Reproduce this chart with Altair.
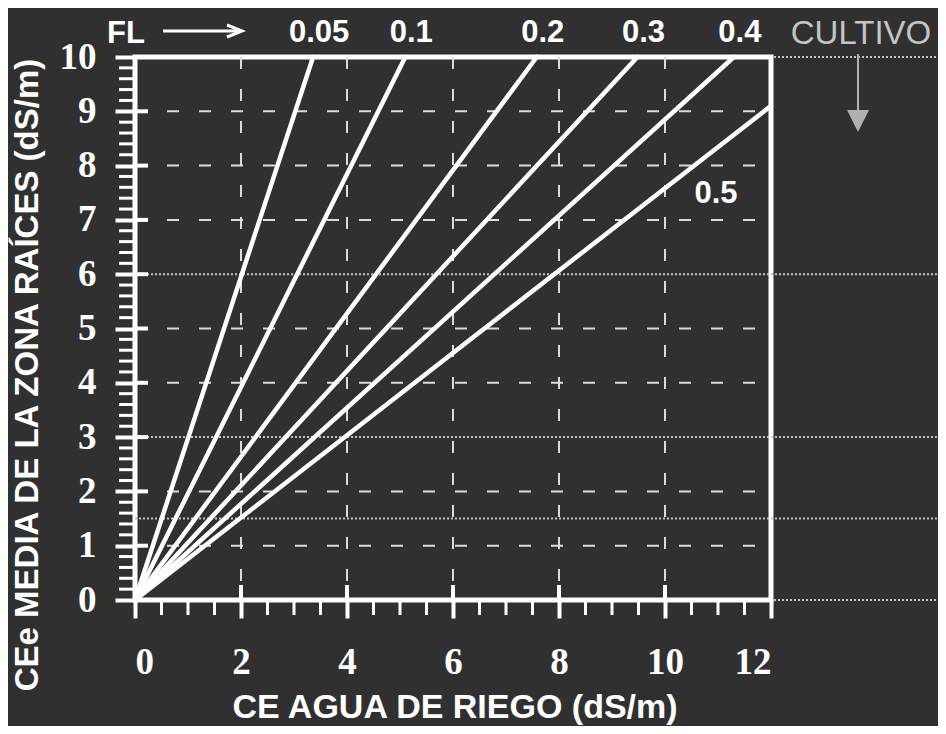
import altair as alt
import pandas as pd

# ---- data ----
fl_labels = ["0.05", "0.1", "0.2", "0.3", "0.4", "0.5"]
ce_agua_end = [3.36, 5.10, 7.58, 9.48, 11.30, 12.00]   # x where each FL line ends
cee_end = [10.0, 10.0, 10.0, 10.0, 10.0, 9.10]         # y where each FL line ends

x_ticks = [0, 2, 4, 6, 8, 10, 12]
y_ticks = [0, 1, 2, 3, 4, 5, 6, 7, 8, 9, 10]
x_grid = [2, 4, 6, 8, 10]
y_grid = [1, 2, 4, 5, 7, 8, 9]
cultivo_levels = [6, 3, 1.5]
edge_levels = [10, 0]
x_minor = [0.5, 1, 1.5, 2.5, 3, 3.5, 4.5, 5, 5.5, 6.5, 7, 7.5, 8.5, 9, 9.5, 10.5, 11, 11.5]
y_minor = [round(i / 5, 1) for i in range(51) if i % 5]

W, H = 636, 543
BG = "#303030"
GRAY = "#c4c4c4"

rows = []
for lab, xe, ye in zip(fl_labels, ce_agua_end, cee_end):
    rows.append({"fl": lab, "x": 0.0, "y": 0.0, "o": 0})
    rows.append({"fl": lab, "x": xe, "y": ye, "o": 1})
lines_df = pd.DataFrame(rows)
ends_df = pd.DataFrame({"fl": fl_labels, "x": ce_agua_end, "y": cee_end})
one = pd.DataFrame({"a": [0]})

xs = alt.Scale(domain=[0, 12], nice=False, zero=False)
ys = alt.Scale(domain=[0, 10], nice=False, zero=False)

x_axis = alt.Axis(values=x_ticks, title=None, grid=False, domain=False,
                  tickSize=18, tickWidth=4, tickColor="white",
                  labelFont="Liberation Serif", labelFontWeight="bold",
                  labelFontSize=37, labelColor="white", labelPadding=26,
                  format="d")
y_axis = alt.Axis(values=y_ticks, title=None, grid=False, domain=False,
                  tickSize=20, tickWidth=4, tickColor="white",
                  labelFont="Liberation Serif", labelFontWeight="bold",
                  labelFontSize=37, labelColor="white", labelPadding=19,
                  format="d")

# grid
vgrid = alt.Chart(pd.DataFrame({"x": x_grid})).mark_rule(
    color="#dcdcdc", strokeWidth=2, strokeDash=[12, 20]).encode(
    x=alt.X("x:Q", scale=xs), y=alt.value(0), y2=alt.value(H))
hgrid = alt.Chart(pd.DataFrame({"y": y_grid})).mark_rule(
    color="#dcdcdc", strokeWidth=2, strokeDash=[12, 20]).encode(
    y=alt.Y("y:Q", scale=ys), x=alt.value(0), x2=alt.value(W))

# dotted crop lines
dotted = alt.Chart(pd.DataFrame({"y": cultivo_levels})).mark_rule(
    color=GRAY, strokeWidth=2, strokeDash=[2, 2]).encode(
    y=alt.Y("y:Q", scale=ys), x=alt.value(0), x2=alt.value(811))
dotted_edge = alt.Chart(pd.DataFrame({"y": edge_levels})).mark_rule(
    color=GRAY, strokeWidth=2, strokeDash=[2, 2]).encode(
    y=alt.Y("y:Q", scale=ys), x=alt.value(W + 3), x2=alt.value(811))

# FL lines
lines = alt.Chart(lines_df).mark_line(color="white", strokeWidth=4.5, strokeCap="round").encode(
    x=alt.X("x:Q", scale=xs, axis=x_axis),
    y=alt.Y("y:Q", scale=ys, axis=y_axis),
    detail="fl:N",
    order="o:Q",
)

# inner halves of major ticks and minor ticks
x_in = alt.Chart(pd.DataFrame({"x": x_grid})).mark_rule(color="white", strokeWidth=4).encode(
    x=alt.X("x:Q", scale=xs), y=alt.value(H - 15), y2=alt.value(H))
y_in = alt.Chart(pd.DataFrame({"y": y_ticks[1:-1]})).mark_rule(color="white", strokeWidth=4).encode(
    y=alt.Y("y:Q", scale=ys), x=alt.value(0), x2=alt.value(13))
x_min = alt.Chart(pd.DataFrame({"x": x_minor})).mark_rule(color="white", strokeWidth=3).encode(
    x=alt.X("x:Q", scale=xs), y=alt.value(H), y2=alt.value(H + 15))
y_min = alt.Chart(pd.DataFrame({"y": y_minor})).mark_rule(color="white", strokeWidth=3).encode(
    y=alt.Y("y:Q", scale=ys), x=alt.value(-16), x2=alt.value(0))

# FL labels
top_labels = alt.Chart(ends_df[ends_df["y"] >= 10]).mark_text(
    font="Liberation Sans", fontWeight="bold", fontSize=31, color="white",
    align="center", baseline="middle", dx=6).encode(
    x=alt.X("x:Q", scale=xs), y=alt.value(-24), text="fl:N")
low_label = alt.Chart(ends_df[ends_df["y"] < 10]).mark_text(
    font="Liberation Sans", fontWeight="bold", fontSize=31, color="white",
    align="center", baseline="middle", dx=-55, dy=88).encode(
    x=alt.X("x:Q", scale=xs), y=alt.Y("y:Q", scale=ys), text="fl:N")


def txt(s, x, y, size, color="white", weight="bold", angle=0):
    return alt.Chart(one).mark_text(
        text=s, font="Liberation Sans", fontWeight=weight, fontSize=size,
        color=color, align="center", baseline="middle", angle=angle).encode(
        x=alt.value(x), y=alt.value(y))


fl_txt = txt("FL", -9, -23, 31)
fl_shaft = alt.Chart(one).mark_rule(color="white", strokeWidth=3).encode(
    x=alt.value(28), x2=alt.value(106), y=alt.value(-26))
fl_head = alt.Chart(one).mark_point(
    shape="M-2,-0.8L0,0L-2,0.8", size=225, filled=False, color="white",
    strokeWidth=3, opacity=1).encode(x=alt.value(107), y=alt.value(-26))

cult_txt = txt("CULTIVO", 726, -23, 33, color=GRAY, weight="normal")
cult_shaft = alt.Chart(one).mark_rule(color="#b0b0b0", strokeWidth=2).encode(
    x=alt.value(723), y=alt.value(-3), y2=alt.value(56))
cult_head = alt.Chart(one).mark_point(
    shape="M-1,-1L1,-1L0,1Z", size=484, filled=True, color="#b0b0b0",
    opacity=1).encode(x=alt.value(723), y=alt.value(64))

y_title = txt("CEe MEDIA DE LA ZONA RAÍCES (dS/m)", -107, 318, 33, angle=270)
x_title = txt("CE AGUA DE RIEGO (dS/m)", 320, 651, 34)

chart = alt.layer(
    vgrid, hgrid, dotted, dotted_edge, lines, x_in, y_in, x_min, y_min,
    top_labels, low_label, fl_txt, fl_shaft, fl_head,
    cult_txt, cult_shaft, cult_head, y_title, x_title,
).properties(
    width=W, height=H,
    autosize=alt.AutoSizeParams(type="none"),
    padding={"left": 127, "top": 49, "right": 167, "bottom": 126},
).configure(background=BG).configure_view(stroke="white", strokeWidth=5)

chart.save("out.html", embed_options={"renderer": "svg", "actions": False})
